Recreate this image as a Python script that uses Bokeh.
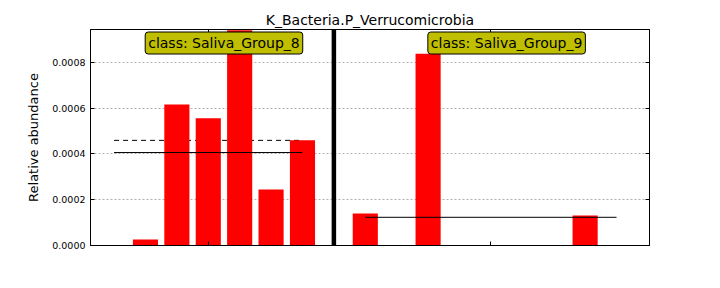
import numpy as np
from bokeh.plotting import figure
from bokeh.models import Range1d, LinearAxis, FixedTicker, PrintfTickFormatter, Label, Span, ColumnDataSource
from bokeh.embed import file_html
from bokeh.resources import INLINE

title = "K_Bacteria.P_Verrucomicrobia"
class_names = ["Saliva_Group_8", "Saliva_Group_9"]
group8 = [0.0, 0.000026, 0.000616, 0.000555, 0.00094, 0.000245, 0.000459]
group9 = [0.000140, 0.0, 0.000837, 0.0, 0.0, 0.0, 0.0, 0.000131, 0.0]
y_ticks = [0.0, 0.0002, 0.0004, 0.0006, 0.0008]

groups = [group8, group9]
FONT = "DejaVu Sans"

# positions: each group consecutive, one empty slot between groups
xs, tops, spans, centers = [], [], [], []
pos = 0
for gi, g in enumerate(groups):
    gx = list(range(pos, pos + len(g)))
    xs += gx
    tops += g
    centers.append(float(np.mean(gx)))
    spans.append((gx[0], gx[-1]))
    pos += len(g)
    if gi < len(groups) - 1:
        pos += 1
seps = [len(group8)]

p = figure(width=720, height=288, output_backend="svg", toolbar_location=None,
           x_range=Range1d(-0.75, 17.05), y_range=Range1d(0, 0.000943),
           min_border_left=90, min_border_right=71, min_border_top=29, min_border_bottom=43)
p.title.text = title
p.title.align = "center"
p.title.text_font = FONT
p.title.text_font_size = "14px"
p.title.text_font_style = "normal"
p.title.text_color = "black"
p.title.offset = 0
p.title.standoff = 4

p.outline_line_color = "black"
p.outline_line_width = 1
p.background_fill_color = "white"
p.border_fill_color = "white"

src = ColumnDataSource(dict(x=xs, top=tops))
p.vbar(x="x", top="top", width=0.8, source=src, fill_color="red", line_color=None)

for g, (a, b) in zip(groups, spans):
    m = float(np.mean(g))
    md = float(np.median(g))
    p.line([a, b], [m, m], line_color="black", line_width=1)
    p.line([a, b], [md, md], line_color="black", line_width=1, line_dash="5 4", level="underlay")

for s in seps:
    p.add_layout(Span(location=s, dimension="height", line_color="black", line_width=4.5))

for c, name in zip(centers, class_names):
    p.add_layout(Label(x=c + 0.5, y=0.000884, text="class: " + name,
                       text_align="center", text_baseline="middle",
                       text_font=FONT, text_font_size="14px", text_color="black",
                       background_fill_color="#bfbf00", border_line_color="black",
                       border_line_width=1, padding=3, border_radius=3))

# grids
p.xgrid.grid_line_color = None
p.ygrid.ticker = FixedTicker(ticks=y_ticks)
p.ygrid.grid_line_color = "#b0b0b0"
p.ygrid.grid_line_dash = "2 2"
p.ygrid.grid_line_width = 1

# left axis
ya = p.yaxis[0]
ya.ticker = FixedTicker(ticks=y_ticks)
ya.formatter = PrintfTickFormatter(format="%.4f")
ya.axis_label = "Relative abundance"
ya.axis_label_text_font = FONT
ya.axis_label_text_font_size = "13px"
ya.axis_label_text_font_style = "normal"
ya.axis_label_text_color = "black"
ya.axis_label_standoff = 8
ya.major_label_text_font = FONT
ya.major_label_text_font_size = "9.5px"
ya.major_label_text_color = "black"
ya.major_label_standoff = 5
ya.major_tick_in = 4
ya.major_tick_out = 0
ya.major_tick_line_color = "black"
ya.minor_tick_line_color = None
ya.axis_line_color = "black"

# bottom axis
xa = p.xaxis[0]
xa.ticker = FixedTicker(ticks=centers)
xa.major_label_text_font_size = "0px"
xa.major_label_text_color = None
xa.major_tick_in = 4
xa.major_tick_out = 0
xa.major_tick_line_color = "black"
xa.minor_tick_line_color = None
xa.axis_line_color = "black"

# right and top axes (ticks only)
ra = LinearAxis(ticker=FixedTicker(ticks=y_ticks), major_label_text_font_size="0px",
                major_label_text_color=None, major_tick_in=4, major_tick_out=0,
                major_tick_line_color="black", axis_line_color="black",
                minor_tick_line_color=None, major_label_standoff=0)
p.add_layout(ra, "right")
ta = LinearAxis(ticker=FixedTicker(ticks=centers), major_label_text_font_size="0px",
                major_label_text_color=None, major_tick_in=4, major_tick_out=0,
                major_tick_line_color="black", axis_line_color="black",
                minor_tick_line_color=None, major_label_standoff=0)
p.add_layout(ta, "above")

open("out.html", "w").write(file_html(p, INLINE))
